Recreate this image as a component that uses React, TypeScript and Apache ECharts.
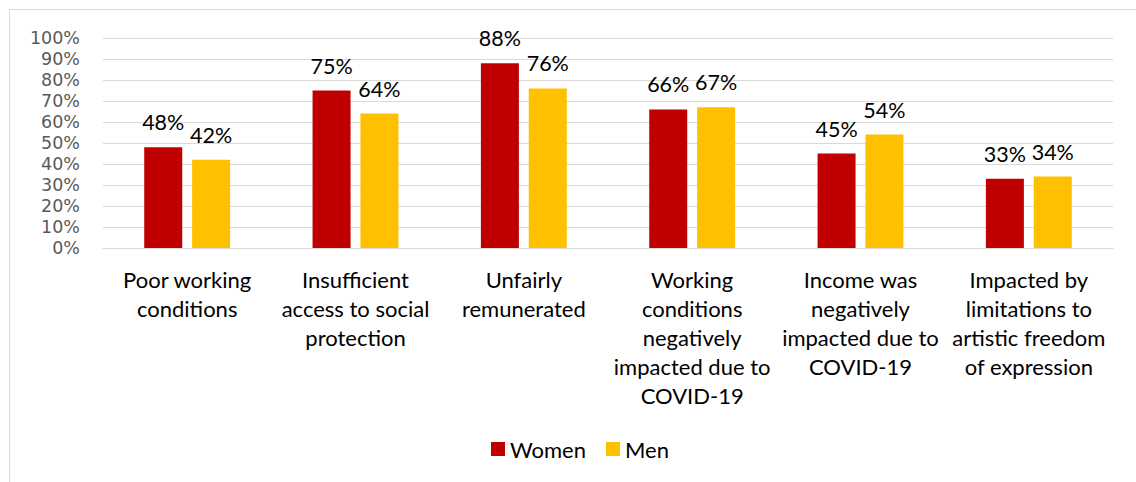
import React, { useEffect, useRef } from "react";
import * as echarts from "echarts";

const categories = [
  "Poor working\nconditions",
  "Insufficient\naccess to social\nprotection",
  "Unfairly\nremunerated",
  "Working\nconditions\nnegatively\nimpacted due to\nCOVID-19",
  "Income was\nnegatively\nimpacted due to\nCOVID-19",
  "Impacted by\nlimitations to\nartistic freedom\nof expression",
];
const women = [48, 75, 88, 66, 45, 33];
const men = [42, 64, 76, 67, 54, 34];

const FONT = "Lato";

export default function App() {
  const ref = useRef<HTMLDivElement>(null);
  useEffect(() => {
    const chart = echarts.init(ref.current!, null, { renderer: "svg" });
    const label = {
      show: true,
      position: "top",
      distance: 14,
      formatter: (p: any) => p.value + "%",
      color: "#000",
      fontSize: 21.5,
      fontFamily: FONT,
    };
    chart.setOption({
      animation: false,
      backgroundColor: "#fff",
      graphic: [
        {
          type: "rect",
          shape: { x: 9.5, y: 9.5, width: 2000, height: 2000 },
          style: { fill: "none", stroke: "#D9D9D9", lineWidth: 1 },
          silent: true,
        },
      ],
      grid: { left: 103, right: 23, top: 38, bottom: 234, containLabel: false },
      legend: {
        top: 433,
        left: 486,
        itemWidth: 14,
        itemHeight: 14,
        itemGap: 20,
        icon: "rect",
        textStyle: { fontSize: 22, fontFamily: FONT, color: "#000" },
        data: ["Women", "Men"],
      },
      xAxis: {
        type: "category",
        data: categories,
        axisLine: { lineStyle: { color: "#D9D9D9", width: 1 } },
        axisTick: { show: false },
        axisLabel: {
          interval: 0,
          margin: 17,
          fontSize: 22,
          lineHeight: 29,
          color: "#000",
          fontFamily: FONT,
        },
      },
      yAxis: {
        type: "value",
        min: 0,
        max: 100,
        interval: 10,
        axisLine: { show: false },
        axisTick: { show: false },
        splitLine: { lineStyle: { color: "#D9D9D9", width: 1 } },
        axisLabel: {
          formatter: (v: number) => v + "%",
          fontSize: 17.5,
          lineHeight: 20,
          color: "#595959",
          fontFamily: "DejaVu Sans",
          margin: 23,
        },
      },
      series: [
        {
          name: "Women",
          type: "bar",
          data: women,
          barWidth: 38,
          barGap: "26%",
          itemStyle: { color: "#C00000" },
          label,
        },
        {
          name: "Men",
          type: "bar",
          data: men,
          barWidth: 38,
          itemStyle: { color: "#FFC000" },
          label,
        },
      ],
    });
    return () => chart.dispose();
  }, []);
  return (
    <div
      ref={ref}
      style={{ position: "fixed", left: 0, top: 0, width: 1136, height: 482 }}
    />
  );
}
